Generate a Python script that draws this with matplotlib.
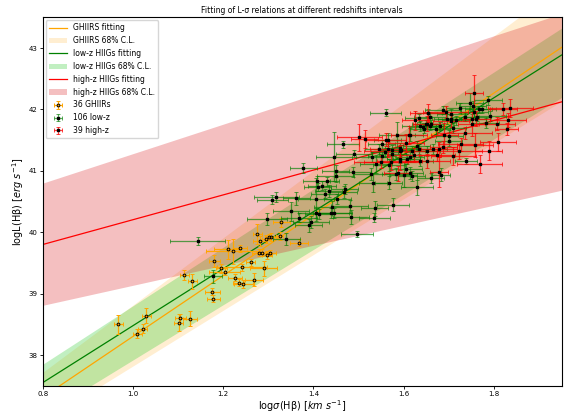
import numpy as np
import matplotlib
matplotlib.use('Agg')
import matplotlib.pyplot as plt

# ---- fitted relations: y = slope * x + intercept ----
ghiirs_fit = (4.955, 33.348)
ghiirs_hi = (5.48, 33.32)
ghiirs_lo = (4.54, 33.268)

lowz_fit = (4.64, 33.838)
lowz_hi = (4.76, 34.042)
lowz_lo = (4.50, 33.42)

highz_fit = (2.02, 38.184)
highz_hi = (2.40, 38.88)
highz_lo = (1.63, 37.506)

# ---- GHIIRs (36) ----
gh_x = [0.968, 1.010, 1.022, 1.030, 1.102, 1.105, 1.126, 1.114, 1.131, 1.176,
        1.178, 1.180, 1.196, 1.203, 1.210, 1.222, 1.237, 1.226, 1.234, 1.245,
        1.242, 1.261, 1.268, 1.290, 1.275, 1.282, 1.279, 1.286, 1.297, 1.304,
        1.295, 1.302, 1.307, 1.325, 1.329, 1.369]
gh_y = [38.50, 38.35, 38.43, 38.64, 38.53, 38.60, 38.59, 39.30, 39.20, 39.03,
        38.92, 39.53, 39.41, 39.36, 39.72, 39.69, 39.74, 39.26, 39.18, 39.16,
        39.43, 39.51, 39.23, 39.41, 39.97, 39.86, 39.67, 39.67, 39.63, 39.66,
        39.89, 39.92, 39.92, 39.94, 40.16, 39.83]
gh_xerr = [0.011, 0.009, 0.010, 0.010, 0.010, 0.012, 0.016, 0.010, 0.010, 0.016,
           0.014, 0.012, 0.012, 0.035, 0.030, 0.060, 0.015, 0.015, 0.012, 0.020,
           0.055, 0.010, 0.020, 0.030, 0.010, 0.015, 0.015, 0.010, 0.012, 0.012,
           0.010, 0.010, 0.012, 0.008, 0.018, 0.020]
gh_yerr = [0.16, 0.08, 0.07, 0.12, 0.14, 0.07, 0.12, 0.08, 0.12, 0.06,
           0.06, 0.10, 0.08, 0.06, 0.15, 0.20, 0.06, 0.06, 0.06, 0.06,
           0.06, 0.06, 0.10, 0.12, 0.16, 0.08, 0.06, 0.06, 0.07, 0.05,
           0.07, 0.05, 0.06, 0.06, 0.08, 0.06]

# ---- low-z HIIGs (106) ----
lz_x = [1.144, 1.177, 1.309, 1.318, 1.297, 1.350, 1.377, 1.406, 1.407, 1.419,
        1.431, 1.425, 1.434, 1.445, 1.449, 1.466, 1.467, 1.487, 1.480, 1.442,
        1.438, 1.445, 1.405, 1.395, 1.390, 1.369, 1.340, 1.483, 1.496, 1.490,
        1.528, 1.536, 1.535, 1.577, 1.560, 1.532, 1.567, 1.551, 1.539, 1.529,
        1.545, 1.558, 1.586, 1.600, 1.605, 1.613, 1.630, 1.613, 1.618, 1.636,
        1.642, 1.649, 1.658, 1.660, 1.672, 1.681, 1.688, 1.697, 1.706, 1.709,
        1.701, 1.724, 1.746, 1.752, 1.757, 1.766, 1.774, 1.782, 1.787, 1.791,
        1.738, 1.683, 1.449, 1.410, 1.453, 1.412, 1.568, 1.592, 1.575, 1.593,
        1.635, 1.469, 1.583, 1.614, 1.705, 1.763, 1.753, 1.737, 1.716, 1.658,
        1.655, 1.633, 1.644, 1.565, 1.551, 1.575, 1.594, 1.629, 1.651, 1.636,
        1.666, 1.607, 1.618, 1.660, 1.700, 1.362]
lz_y = [39.86, 39.28, 40.53, 40.58, 40.22, 40.34, 41.04, 40.54, 40.83, 40.76,
        40.83, 40.63, 40.67, 41.23, 40.92, 41.43, 40.66, 40.98, 40.42, 40.41,
        40.32, 40.31, 40.31, 40.17, 40.11, 40.24, 39.89, 40.25, 39.97, 41.28,
        40.95, 40.39, 40.24, 40.45, 41.95, 40.81, 40.81, 41.24, 41.11, 41.22,
        41.35, 41.30, 41.59, 40.94, 41.03, 40.97, 40.73, 41.59, 41.32, 41.73,
        41.72, 41.76, 41.88, 41.77, 41.68, 41.73, 41.99, 41.85, 41.85, 41.70,
        41.57, 42.02, 42.11, 41.84, 41.96, 42.00, 42.00, 41.78, 42.15, 41.89,
        41.16, 40.94, 41.00, 40.74, 40.54, 40.30, 41.10, 41.20, 41.28, 41.38,
        41.36, 40.70, 40.95, 41.23, 41.93, 41.88, 42.06, 41.88, 41.82, 41.73,
        41.94, 41.86, 41.68, 41.51, 41.43, 41.34, 41.34, 41.41, 41.32, 41.16,
        41.35, 41.19, 40.92, 40.89, 41.49, 40.55]
lz_xerr = [0.061, 0.020, 0.035, 0.050, 0.045, 0.040, 0.030, 0.040, 0.030, 0.030,
           0.025, 0.030, 0.030, 0.040, 0.040, 0.035, 0.030, 0.040, 0.040, 0.040,
           0.040, 0.040, 0.040, 0.040, 0.030, 0.040, 0.030, 0.040, 0.035, 0.040,
           0.040, 0.030, 0.035, 0.035, 0.035, 0.030, 0.030, 0.030, 0.035, 0.035,
           0.030, 0.030, 0.040, 0.030, 0.035, 0.030, 0.035, 0.030, 0.030, 0.040,
           0.030, 0.030, 0.035, 0.030, 0.030, 0.030, 0.040, 0.030, 0.030, 0.030,
           0.030, 0.030, 0.030, 0.030, 0.030, 0.030, 0.030, 0.030, 0.030, 0.035,
           0.025, 0.020, 0.030, 0.030, 0.030, 0.030, 0.035, 0.030, 0.030, 0.035,
           0.030, 0.030, 0.030, 0.030, 0.030, 0.030, 0.030, 0.030, 0.030, 0.030,
           0.030, 0.030, 0.030, 0.030, 0.030, 0.030, 0.030, 0.030, 0.030, 0.030,
           0.030, 0.030, 0.030, 0.030, 0.030, 0.030]
lz_yerr = [0.07, 0.10, 0.07, 0.08, 0.10, 0.15, 0.08, 0.35, 0.08, 0.08,
           0.07, 0.07, 0.10, 0.40, 0.10, 0.05, 0.10, 0.08, 0.10, 0.10,
           0.08, 0.08, 0.08, 0.10, 0.10, 0.08, 0.10, 0.12, 0.05, 0.06,
           0.10, 0.12, 0.08, 0.10, 0.05, 0.15, 0.10, 0.08, 0.15, 0.08,
           0.08, 0.08, 0.20, 0.20, 0.08, 0.10, 0.12, 0.10, 0.08, 0.08,
           0.06, 0.07, 0.08, 0.06, 0.08, 0.07, 0.07, 0.08, 0.06, 0.08,
           0.10, 0.08, 0.15, 0.08, 0.08, 0.06, 0.06, 0.08, 0.07, 0.08,
           0.05, 0.10, 0.10, 0.07, 0.08, 0.08, 0.10, 0.08, 0.10, 0.08,
           0.08, 0.08, 0.10, 0.08, 0.07, 0.07, 0.07, 0.07, 0.07, 0.07,
           0.07, 0.07, 0.07, 0.10, 0.08, 0.08, 0.08, 0.08, 0.08, 0.08,
           0.08, 0.08, 0.08, 0.08, 0.08, 0.10]

# ---- high-z HIIGs (39) ----
hz_x = [1.502, 1.514, 1.561, 1.591, 1.587, 1.626, 1.653, 1.652, 1.678, 1.674,
        1.688, 1.723, 1.726, 1.758, 1.769, 1.789, 1.810, 1.828, 1.832, 1.836,
        1.821, 1.756, 1.761, 1.751, 1.806, 1.704, 1.693, 1.651, 1.612, 1.622,
        1.593, 1.566, 1.573, 1.678, 1.710, 1.549, 1.690, 1.606, 1.735]
hz_y = [41.55, 41.52, 41.51, 41.16, 40.96, 41.82, 41.94, 41.16, 40.98, 41.26,
        41.39, 41.32, 41.43, 41.42, 41.11, 41.33, 41.47, 41.68, 41.83, 42.02,
        42.01, 42.26, 41.85, 41.76, 41.77, 41.81, 41.96, 41.77, 41.58, 41.26,
        41.32, 41.35, 41.14, 41.35, 41.24, 41.15, 41.58, 41.45, 41.62]
hz_xerr = [0.050, 0.030, 0.045, 0.050, 0.030, 0.030, 0.040, 0.050, 0.020, 0.040,
           0.030, 0.050, 0.050, 0.040, 0.050, 0.030, 0.040, 0.025, 0.040, 0.050,
           0.030, 0.020, 0.030, 0.030, 0.040, 0.040, 0.050, 0.030, 0.040, 0.060,
           0.080, 0.040, 0.060, 0.040, 0.050, 0.060, 0.030, 0.040, 0.060]
hz_yerr = [0.22, 0.15, 0.10, 0.15, 0.12, 0.15, 0.15, 0.12, 0.25, 0.10,
           0.10, 0.12, 0.10, 0.20, 0.15, 0.15, 0.15, 0.10, 0.12, 0.15,
           0.10, 0.30, 0.12, 0.20, 0.10, 0.10, 0.10, 0.12, 0.15, 0.12,
           0.10, 0.12, 0.12, 0.12, 0.15, 0.10, 0.20, 0.15, 0.10]


def line(p, x):
    return p[0] * x + p[1]


fig = plt.figure(figsize=(5.64, 4.13), dpi=100)
ax = fig.add_axes([0.0757, 0.066, 0.920, 0.892])

xs = np.linspace(0.8, 1.95, 200)

ax.plot(xs, line(ghiirs_fit, xs), color='orange', lw=0.9, label='GHIIRS fitting')
ax.fill_between(xs, line(ghiirs_lo, xs), line(ghiirs_hi, xs), color='orange',
                alpha=0.18, lw=0, label='GHIIRS 68% C.L.')
ax.plot(xs, line(lowz_fit, xs), color='green', lw=0.9, label='low-z HIIGs fitting')
ax.fill_between(xs, line(lowz_lo, xs), line(lowz_hi, xs), color='limegreen',
                alpha=0.3, lw=0, label='low-z HIIGs 68% C.L.')
ax.plot(xs, line(highz_fit, xs), color='red', lw=0.9, label='high-z HIIGs fitting')
ax.fill_between(xs, line(highz_lo, xs), line(highz_hi, xs), color=(0.85, 0.1, 0.12),
                alpha=0.28, lw=0, label='high-z HIIGs 68% C.L.')

ax.errorbar(gh_x, gh_y, xerr=gh_xerr, yerr=gh_yerr, fmt='o', ms=2.0, mfc='none',
            mec='k', mew=0.7, ecolor='orange', elinewidth=0.9, capsize=1.4,
            capthick=0.7, label='36 GHIIRs')
ax.errorbar(lz_x, lz_y, xerr=lz_xerr, yerr=lz_yerr, fmt='s', ms=1.7, color='k',
            ecolor=(0.0, 0.5, 0.0, 0.65), elinewidth=0.9, capsize=1.4,
            capthick=0.7, label='106 low-z')
ax.errorbar(hz_x, hz_y, xerr=hz_xerr, yerr=hz_yerr, fmt='s', ms=1.7, color='k',
            ecolor=(1.0, 0.0, 0.0, 0.75), elinewidth=0.9, capsize=1.4,
            capthick=0.7, label='39 high-z')

ax.set_xlim(0.8, 1.95)
ax.set_ylim(37.5, 43.5)
ax.set_xticks([0.8, 1.0, 1.2, 1.4, 1.6, 1.8])
ax.set_yticks([38, 39, 40, 41, 42, 43])
ax.tick_params(labelsize=5, length=2, width=0.6, pad=1.5)
for s in ax.spines.values():
    s.set_linewidth(0.8)

ax.set_xlabel(r'log$\sigma$(Hβ) [$km\ s^{-1}$]', fontsize=7, labelpad=1)
ax.set_ylabel(r'logL(Hβ) [$erg\ s^{-1}$]', fontsize=7, labelpad=2)
ax.set_title('Fitting of L-σ relations at different redshifts intervals',
             fontsize=5.5, pad=3)
ax.legend(loc='upper left', fontsize=5.5, handlelength=2.4, borderaxespad=0.4)

fig.savefig('out.png', dpi=100)
